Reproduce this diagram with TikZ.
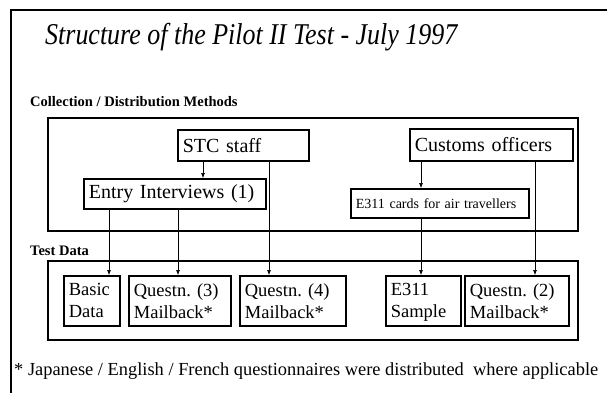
\documentclass[tikz,border=0pt]{standalone}
\usepackage{fontspec}
\setmainfont{Liberation Serif}
\newfontfamily\titlefont{Liberation Serif}[FakeStretch=0.86]
\usetikzlibrary{arrows.meta}
\frenchspacing

\begin{document}
\begin{tikzpicture}[x=1pt, y=-1pt]
\tikzset{box/.style = {draw, line width=1.7pt, anchor=north west, align=left, inner xsep=5pt, inner ysep=0pt, font=\fontsize{20}{23}\selectfont}}
\tikzset{smallbox/.style = {box, font=\fontsize{14}{17}\selectfont}}
\tikzset{databox/.style = {box, minimum height=50pt, font=\fontsize{18.5}{22}\selectfont}}
\tikzset{container/.style = {draw, line width=1.3pt}}
\tikzset{heading/.style = {anchor=west, inner sep=0pt, font=\bfseries\fontsize{14.5}{17}\selectfont}}
\tikzset{edge/.style = {-{Latex[length=5pt,width=4pt]}, line width=0.6pt}}

\useasboundingbox (0,0) rectangle (607,393);

% frame and title
\draw[line width=1.3pt] (11,393) -- (11,10) -- (607,10);
\node[anchor=west, inner sep=0pt, font=\titlefont\itshape\fontsize{30.2}{33}\selectfont] (title) at (45,37) {Structure of the Pilot II Test - July 1997};

% collection / distribution methods
\node[heading] (hmethods) at (30,102) {Collection / Distribution Methods};
\draw[container] (48,118) rectangle (578,231);
\node[box, text width=121pt, minimum height=31pt] (stc) at (177,129) {STC staff};
\node[box, text width=153pt, minimum height=32pt] (customs) at (409,128) {Customs officers};
\node[box, text width=172pt, minimum height=30pt] (entry) at (83,178) {Entry Interviews (1)};
\node[smallbox, text width=168pt, minimum height=29pt] (cards) at (350,188) {E311 cards for air travellers};

% test data
\node[heading] (hdata) at (30,251) {Test Data};
\draw[container] (48,261) rectangle (578,340);
\node[databox, text width=46pt] (basic) at (63,275) {Basic\\Data};
\node[databox, text width=92pt] (qthree) at (128,275) {Questn. (3)\\Mailback*};
\node[databox, text width=96pt] (qfour) at (239,275) {Questn. (4)\\Mailback*};
\node[databox, text width=65pt] (sample) at (385,275) {E311\\Sam\smash{p}le};
\node[databox, text width=94pt] (qtwo) at (464,275) {Questn. (2)\\Mailback*};

% footnote
\node[anchor=west, inner sep=0pt, font=\fontsize{18.4}{20}\selectfont] (note) at (14,371) {* Japanese / English / French questionnaires were distributed\ \ where applicable};

%edges
\coordinate (xentry) at (203,0);
\coordinate (xbasic) at (109,0);
\coordinate (xqthree) at (178,0);
\coordinate (xqfour) at (269,0);
\coordinate (xcards) at (421,0);
\coordinate (xqtwo) at (535,0);
\draw[edge] (stc.south -| xentry) -- (entry.north -| xentry);
\draw[edge] (stc.south -| xqfour) -- (qfour.north -| xqfour);
\draw[edge] (entry.south -| xbasic) -- (basic.north -| xbasic);
\draw[edge] (entry.south -| xqthree) -- (qthree.north -| xqthree);
\draw[edge] (customs.south -| xcards) -- (cards.north -| xcards);
\draw[edge] (cards.south -| xcards) -- (sample.north -| xcards);
\draw[edge] (customs.south -| xqtwo) -- (qtwo.north -| xqtwo);
\end{tikzpicture}
\end{document}
